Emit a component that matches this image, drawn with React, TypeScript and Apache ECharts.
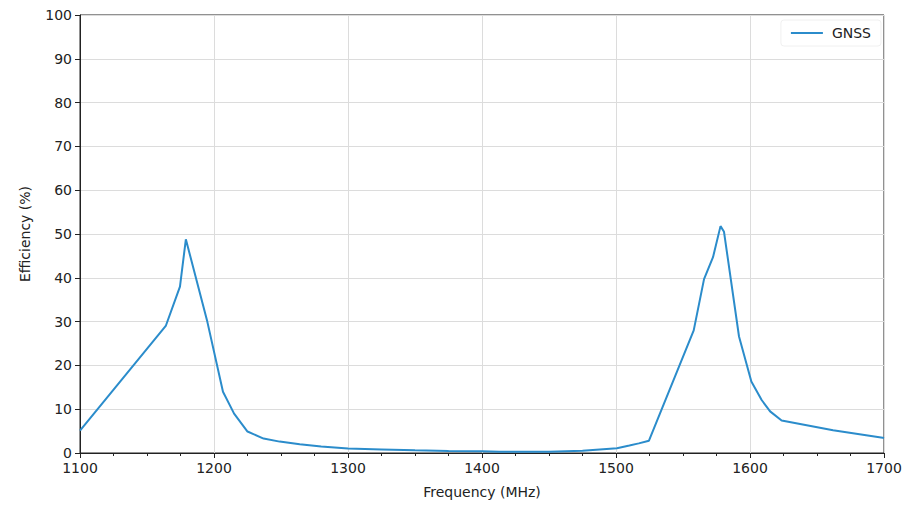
import React, { useEffect, useRef } from "react";
import * as echarts from "echarts";

const seriesName = "GNSS";
const freqMHz = [
  1100, 1164, 1174.6, 1179, 1195, 1206.7, 1215, 1225, 1237, 1249, 1264, 1280, 1300,
  1325, 1350, 1375, 1400, 1413, 1450, 1475, 1500.7, 1510, 1517, 1524.6, 1558, 1565.7,
  1572.4, 1578, 1580.6, 1591.8, 1601, 1608.7, 1615, 1623.6, 1662, 1699, 1700,
];
const efficiency = [
  5.1, 29, 38, 48.8, 30, 14, 9, 4.9, 3.3, 2.6, 2.0, 1.5, 1.0,
  0.8, 0.6, 0.45, 0.4, 0.3, 0.3, 0.5, 1.1, 1.7, 2.2, 2.8, 28, 39.7,
  44.7, 51.8, 50.5, 26.6, 16.3, 12.1, 9.5, 7.4, 5.2, 3.5, 3.4,
];
const xTicks = [1100, 1200, 1300, 1400, 1500, 1600, 1700];
const yTicks = [0, 10, 20, 30, 40, 50, 60, 70, 80, 90, 100];

export default function App() {
  const ref = useRef<HTMLDivElement>(null);
  useEffect(() => {
    if (!ref.current) return;
    const chart = echarts.init(ref.current, null, { renderer: "svg" });
    const font = "DejaVu Sans";
    chart.setOption({
      animation: false,
      backgroundColor: "#ffffff",
      textStyle: { fontFamily: font },
      grid: { left: 80, right: 37, top: 15, bottom: 53, containLabel: false, show: true, borderColor: "#222", borderWidth: 1 },
      legend: {
        right: 40,
        top: 20,
        itemWidth: 32,
        itemHeight: 2,
        itemGap: 10,
        icon: "rect",
        textStyle: { fontFamily: font, fontSize: 14, color: "#222", padding: [0, 0, 0, 4] },
        data: [seriesName],
        borderColor: "#f0f0f0",
        borderWidth: 1,
        borderRadius: 3,
        padding: [6, 10, 6, 10],
        backgroundColor: "rgba(255,255,255,0.8)",
      },
      xAxis: {
        type: "value",
        min: xTicks[0],
        max: xTicks[xTicks.length - 1],
        interval: 100,
        name: "Frequency (MHz)",
        nameLocation: "middle",
        nameGap: 32,
        nameTextStyle: { fontFamily: font, fontSize: 14, color: "#222" },
        axisLine: { show: true, onZero: false, lineStyle: { color: "#222", width: 1 } },
        axisTick: { show: true, length: 5, lineStyle: { color: "#222" } },
        minorTick: { show: true, splitNumber: 4, length: 3, lineStyle: { color: "#222" } },
        axisLabel: { fontFamily: font, fontSize: 14, color: "#222", margin: 8, formatter: (v: number) => String(v) },
        splitLine: { show: true, lineStyle: { color: "#dcdcdc", width: 1 } },
      },
      yAxis: {
        type: "value",
        min: yTicks[0],
        max: yTicks[yTicks.length - 1],
        interval: 10,
        name: "Efficiency (%)",
        nameLocation: "middle",
        nameGap: 48,
        nameRotate: 90,
        nameTextStyle: { fontFamily: font, fontSize: 14, color: "#222" },
        axisLine: { show: true, lineStyle: { color: "#222", width: 1 } },
        axisTick: { show: true, length: 5, lineStyle: { color: "#222" } },
        axisLabel: { fontFamily: font, fontSize: 14, color: "#222", margin: 8, formatter: (v: number) => String(v) },
        splitLine: { show: true, lineStyle: { color: "#dcdcdc", width: 1 } },
      },
      series: [
        {
          name: seriesName,
          type: "line",
          data: freqMHz.map((f, i) => [f, efficiency[i]]),
          showSymbol: false,
          symbol: "none",
          lineStyle: { color: "#2b8ccb", width: 2 },
          itemStyle: { color: "#2b8ccb" },
        },
      ],
    });
    return () => chart.dispose();
  }, []);
  return <div ref={ref} style={{ width: 921, height: 506, position: "absolute", left: 0, top: 0 }} />;
}
